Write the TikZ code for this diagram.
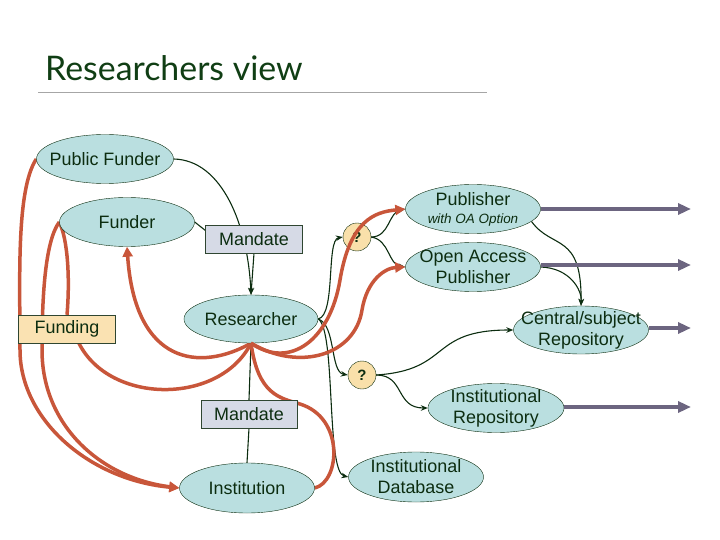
\documentclass[tikz,border=0pt]{standalone}
\usepackage{fontspec}
\setmainfont{Liberation Sans}
\newfontfamily\titlefont{Lato}
\usepackage{tikz}
\usetikzlibrary{shapes.geometric, arrows.meta, positioning}
\usepackage{xcolor}
\definecolor{titleGreen}{RGB}{16, 62, 20}
\definecolor{txtGreen}{RGB}{12, 45, 16}
\definecolor{nodeBlue}{RGB}{186, 223, 224}
\definecolor{flowRed}{RGB}{200, 86, 58}
\definecolor{outGray}{RGB}{108, 101, 128}
\definecolor{mandFill}{RGB}{214, 218, 230}
\definecolor{fundFill}{RGB}{250, 226, 178}
\definecolor{qFill}{RGB}{249, 224, 170}
\pgfdeclarelayer{background}
\pgfsetlayers{background,main}

\tikzset{
  actortext/.style={text=txtGreen, align=center, font=\fontsize{18}{21}\selectfont},
  actor/.style={ellipse, draw=txtGreen, thin, fill=nodeBlue,
    minimum width=135bp, minimum height=49bp, inner sep=0pt,
    label={[actortext]center:#1}},
  tag/.style={rectangle, draw=txtGreen!70!gray, thin, minimum width=97bp,
    minimum height=28bp, inner sep=0pt, text=txtGreen,
    font=\fontsize{18}{21}\selectfont},
  query/.style={circle, draw=txtGreen, thin, fill=qFill, minimum size=28bp,
    inner sep=0pt, text=txtGreen, font=\bfseries\fontsize{15}{15}\selectfont},
  info/.style={draw=txtGreen, line width=1.1bp, -{Stealth[length=7bp,width=5.5bp]}},
  money/.style={draw=flowRed, line width=3.5bp},
  moneyto/.style={money, -{Triangle[length=10bp,width=10bp]}},
  outflow/.style={draw=outGray, line width=4bp, -{Triangle[length=13bp,width=11bp]}},
}

\begin{document}
\begin{tikzpicture}[x=1bp, y=-1bp]
  \useasboundingbox (0,0) rectangle (720,540);

  % --- Title ---
  \node[anchor=base west, inner sep=0pt, text=titleGreen,
        font=\titlefont\fontsize{34}{40}\selectfont] (title) at (45,81) {Researchers view};
  \draw[gray!70, line width=1bp] (38,93) -- (487,93);

  % --- Actors ---
  \node[actor={Public Funder}, minimum width=137bp] (pf) at (105,159) {};
  \node[actor={Funder}] (fu) at (127,222) {};
  \node[tag, fill=mandFill] (mandA) at (254,239) {Mandate};
  \node[tag, fill=fundFill] (fund) at (67,329) {Funding};
  \node[actor={Researcher}, minimum width=134bp, minimum height=48bp] (res) at (251,319) {};
  \node[query] (qA) at (357,237) {?};
  \node[actor={Publisher\\[-3bp]{\itshape\fontsize{13.5}{14}\selectfont with OA Option}}] (pub) at (473,209) {};
  \node[actor={Open Access\\Publisher}] (oap) at (473,267) {};
  \node[actor={Central/subject\\Repository}, minimum height=48bp] (cen) at (581,330) {};
  \node[query] (qB) at (362,375) {?};
  \node[actor={Institutional\\Repository}, minimum width=136bp] (irep) at (496,408) {};
  \node[tag, fill=mandFill, minimum width=96bp] (mandB) at (249,414) {Mandate};
  \node[actor={Institution}, minimum height=50bp] (inst) at (247,488) {};
  \node[actor={Institutional\\Database}, minimum height=50bp] (idb) at (416,477) {};

  % --- Outputs ---
  \coordinate (pubOut) at (691,209);
  \coordinate (oapOut) at (691,265);
  \coordinate (cenOut) at (691,328);
  \coordinate (irepOut) at (691,407);
  \draw[outflow] (pub.east) -- (pubOut);
  \draw[outflow] (oap.east |- oapOut) -- (oapOut);
  \draw[outflow] (cen.east |- cenOut) -- (cenOut);
  \draw[outflow] (irep.east |- irepOut) -- (irepOut);

  \begin{pgfonlayer}{background}
    % information flow
    \draw[info] (pf.east) .. controls (222,160) and (248,225) .. (res.north);
    \draw[txtGreen, line width=1.1bp] (fu.east) -- (mandA.170);
    \draw[info] (mandA.south) -- (res.north);
    \draw[info] (res.east) .. controls (336,315) and (326,240) .. (qA.west);
    \draw[info] (qA.east) .. controls (390,237) and (388,212) .. (pub.west);
    \draw[info] (qA.east) .. controls (390,240) and (388,265) .. (oap.west);
    \draw[info] (pub.-12) .. controls (552,250) and (582,232) .. (cen.north);
    \draw[info] (oap.east) .. controls (570,268) and (582,290) .. (cen.north);
    \draw[info] (res.east) .. controls (336,325) and (330,372) .. (qB.west);
    \draw[info] (res.east) .. controls (336,330) and (326,472) .. (idb.west);
    \draw[info] (qB.east) .. controls (452,370) and (428,330) .. (cen.west);
    \draw[info] (qB.east) .. controls (405,375) and (395,408) .. (irep.west);
    \draw[txtGreen, line width=1.1bp] (inst.north) -- (mandB.south);
    \draw[info] (mandB.north) -- (res.south);

    % money flow
    \draw[moneyto] (pf.west) .. controls (16,190) and (20,280) .. (20,350)
                   .. controls (20,420) and (90,480) .. (inst.west);
    \draw[moneyto] (fu.west) .. controls (46,240) and (42,290) .. (42,350)
                   .. controls (42,425) and (100,478) .. (inst.west);
    \draw[money] (fu.west) .. controls (68,240) and (70,280) .. (fund.north);
    \draw[money] (fund.-50) .. controls (110,405) and (220,405) .. (res.south);
    \draw[moneyto] (res.south) .. controls (200,372) and (135,365) .. (fu.south);
    \draw[money] (res.south) .. controls (258,395) and (280,398) .. (300,404)
                 .. controls (345,418) and (340,482) .. (inst.east);
  \end{pgfonlayer}

  % money to publishers, over the query
  \draw[moneyto] (res.south) .. controls (290,370) and (330,340) .. (340,280)
                 .. controls (350,220) and (375,212) .. (pub.west);
  \draw[moneyto] (res.south) .. controls (300,372) and (355,355) .. (362,310)
                 .. controls (367,280) and (385,268) .. (oap.west);
\end{tikzpicture}
\end{document}
